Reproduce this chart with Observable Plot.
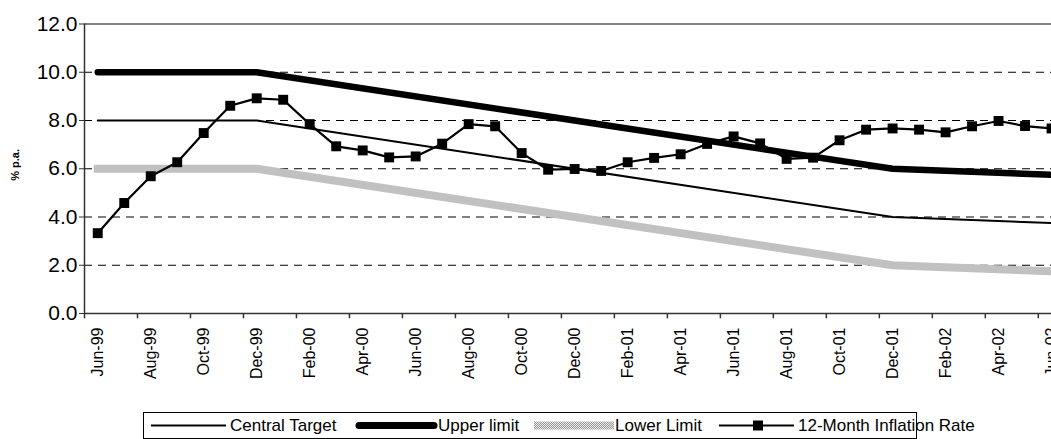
<!DOCTYPE html>
<html>
<head>
<meta charset="utf-8">
<script src="https://cdn.jsdelivr.net/npm/d3@7"></script>
<script src="https://cdn.jsdelivr.net/npm/@observablehq/plot@0.6"></script>
<style>
  html, body { margin: 0; padding: 0; background: #fff; }
  body { font-family: "Liberation Sans", Arial, sans-serif; }
  #wrap { position: relative; width: 1051px; height: 439px; overflow: hidden; background: #fff; }
  #chart { position: absolute; left: 0; top: 0; width: 1070px; }
  #chart svg { max-width: none !important; }
  #legend { position: absolute; left: 143px; top: 412px; width: 774px; height: 27px;
            border: 1px solid #000; box-sizing: border-box; background: #fff; }
  #legend svg { position: absolute; left: 0; top: 0; }
  #legend span { position: absolute; top: 0; line-height: 25px; font-size: 17px; color: #000; white-space: nowrap; }
</style>
</head>
<body>
<svg width="0" height="0" style="position:absolute">
  <defs>
    <pattern id="dots" width="2" height="2" patternUnits="userSpaceOnUse">
      <rect width="2" height="2" fill="#e8e8e8"></rect>
      <rect width="1" height="1" fill="#9a9a9a"></rect>
      <rect x="1" y="1" width="1" height="1" fill="#9a9a9a"></rect>
    </pattern>
  </defs>
</svg>
<div id="wrap">
  <div id="chart"></div>
  <div id="legend"></div>
</div>
<script>
// ---- Data ----
const months = ["Jun-99","Jul-99","Aug-99","Sep-99","Oct-99","Nov-99","Dec-99",
  "Jan-00","Feb-00","Mar-00","Apr-00","May-00","Jun-00","Jul-00","Aug-00","Sep-00","Oct-00","Nov-00","Dec-00",
  "Jan-01","Feb-01","Mar-01","Apr-01","May-01","Jun-01","Jul-01","Aug-01","Sep-01","Oct-01","Nov-01","Dec-01",
  "Jan-02","Feb-02","Mar-02","Apr-02","May-02","Jun-02"];
const inflation = [3.33,4.58,5.69,6.27,7.48,8.61,8.92,
  8.86,7.85,6.93,6.76,6.47,6.51,7.04,7.85,7.76,6.65,5.96,5.99,
  5.91,6.27,6.45,6.60,7.03,7.34,7.05,6.41,6.46,7.18,7.62,7.67,
  7.62,7.51,7.76,7.98,7.77,7.67];
const targetMonths = ["Jun-99","Dec-99","Dec-01","Jun-02"];
const centralTarget = [8, 8, 4, 3.75];
const upperLimit = [10, 10, 6, 5.75];
const lowerLimit = [6, 6, 2, 1.75];
const tickLabels = ["Jun-99","Aug-99","Oct-99","Dec-99","Feb-00","Apr-00","Jun-00","Aug-00","Oct-00","Dec-00",
  "Feb-01","Apr-01","Jun-01","Aug-01","Oct-01","Dec-01","Feb-02","Apr-02","Jun-02"];
const yTicks = [0, 2, 4, 6, 8, 10, 12];
const gridValues = [2, 4, 6, 8, 10];
const yLabel = "% p.a.";
const legendNames = ["Central Target", "Upper limit", "Lower Limit", "12-Month Inflation Rate"];

// ---- Tables ----
const inflTable = months.map((m, i) => ({m, v: inflation[i]}));
const centralTable = targetMonths.map((m, i) => ({m, v: centralTarget[i]}));
const upperTable = targetMonths.map((m, i) => ({m, v: upperLimit[i]}));
const lowerTable = targetMonths.map((m, i) => ({m, v: lowerLimit[i]}));

const LOWER_TMP = "#c0c0c1";
const halfStep = 13.25;

const chart = Plot.plot({
  width: 1070,
  height: 405,
  marginLeft: 84,
  marginRight: 5.7,
  marginTop: 23.5,
  marginBottom: 92,
  style: { fontFamily: '"Liberation Sans", Arial, sans-serif', fontSize: "16px", background: "transparent", color: "#000", maxWidth: "none" },
  x: { type: "point", domain: months, padding: 0.5, round: false, axis: null },
  y: { domain: [0, 12], axis: null },
  marks: [
    Plot.ruleY(gridValues, { stroke: "#000", strokeWidth: 1, strokeDasharray: "8,6" }),
    Plot.ruleY([12], { stroke: "#808080", strokeWidth: 2 }),
    Plot.ruleY([0], { stroke: "#333", strokeWidth: 1.5 }),
    Plot.ruleX([months[0]], { x: d => d, dx: -halfStep, y1: 0, y2: 12, stroke: "#333", strokeWidth: 1.5 }),
    Plot.ruleX(tickLabels, { x: d => d, dx: -halfStep, y1: 0, y2: -0.22, stroke: "#333", strokeWidth: 1.5 }),
    Plot.axisY(yTicks, { tickSize: 5, tickPadding: 2, fontSize: 21, tickFormat: d => d.toFixed(1), label: null, stroke: "#333" }),
    Plot.text(tickLabels, { x: d => d, y: 0, text: d => d, rotate: -90, textAnchor: "end", dy: 14, fontSize: 16, fill: "#000" }),
    Plot.text([yLabel], { frameAnchor: "left", text: d => d, dx: -69, dy: 12, rotate: -90, fontSize: 11, fontWeight: "bold", fill: "#000" }),
    Plot.line(lowerTable, { x: "m", y: "v", stroke: LOWER_TMP, strokeWidth: 8, strokeLinecap: "square" }),
    Plot.line(centralTable, { x: "m", y: "v", stroke: "#000", strokeWidth: 2 }),
    Plot.line(upperTable, { x: "m", y: "v", stroke: "#000", strokeWidth: 6.5, strokeLinecap: "round" }),
    Plot.line(inflTable, { x: "m", y: "v", stroke: "#000", strokeWidth: 2.2 }),
    Plot.dot(inflTable, { x: "m", y: "v", symbol: "square", r: 5.6, fill: "#000", stroke: "none" })
  ]
});
chart.style.maxWidth = "none";
document.getElementById("chart").appendChild(chart);
chart.querySelectorAll('[stroke="' + LOWER_TMP + '"]').forEach(el => el.setAttribute("stroke", "url(#dots)"));

// ---- Legend ----
const legend = document.getElementById("legend");
const ns = "http://www.w3.org/2000/svg";
const lsvg = document.createElementNS(ns, "svg");
lsvg.setAttribute("width", 774);
lsvg.setAttribute("height", 27);
lsvg.innerHTML =
  '<line x1="7" x2="82" y1="12.5" y2="12.5" stroke="#000" stroke-width="2"/>' +
  '<line x1="215" x2="290" y1="12.5" y2="12.5" stroke="#000" stroke-width="7" stroke-linecap="round"/>' +
  '<rect x="390" y="8.5" width="80" height="8" fill="url(#dots)"/>' +
  '<line x1="575" x2="650" y1="12.5" y2="12.5" stroke="#000" stroke-width="2"/>' +
  '<rect x="609" y="7.5" width="10" height="10" fill="#000"/>';
legend.appendChild(lsvg);
const textLefts = [86, 294, 471, 654];
legendNames.forEach((name, i) => {
  const s = document.createElement("span");
  s.textContent = name;
  s.style.left = textLefts[i] + "px";
  legend.appendChild(s);
});
</script>
</body>
</html>
